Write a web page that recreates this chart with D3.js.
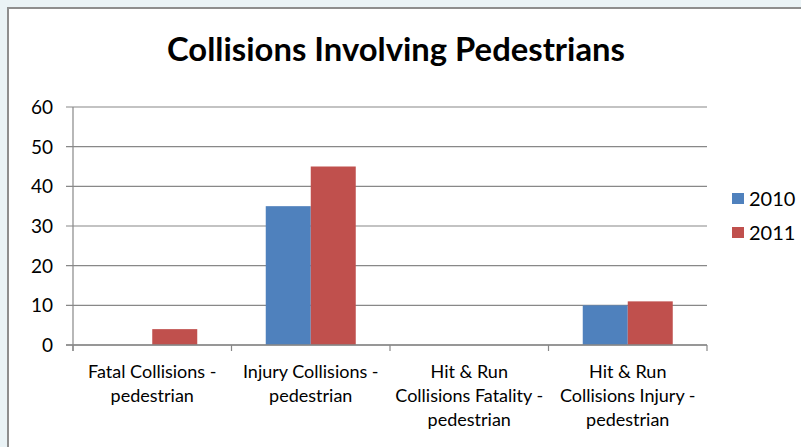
<!DOCTYPE html>
<html>
<head>
<meta charset="utf-8">
<script src="https://cdn.jsdelivr.net/npm/d3@7"></script>
<style>
  html, body { margin: 0; padding: 0; background: #eaf3f6; }
  svg { display: block; }
  text { font-family: Lato, "Open Sans", sans-serif; fill: #000; }
</style>
</head>
<body>
<script>
// Chart data
const categories = [
  ["Fatal Collisions -", "pedestrian"],
  ["Injury Collisions -", "pedestrian"],
  ["Hit & Run", "Collisions Fatality -", "pedestrian"],
  ["Hit & Run", "Collisions Injury -", "pedestrian"]
];
const seriesNames = ["2010", "2011"];
const values2010 = [0, 35, 0, 10];
const values2011 = [4, 45, 0, 11];
const yTicks = [0, 10, 20, 30, 40, 50, 60];
const colors = ["#4f81bd", "#c0504d"];

const W = 801, H = 447;
const svg = d3.select("body").append("svg").attr("width", W).attr("height", H);

// chart panel with gray frame running off right/bottom edges
svg.append("rect").attr("x", 8).attr("y", 8).attr("width", W).attr("height", H)
  .attr("fill", "#fff").attr("stroke", "#8e8e8e").attr("stroke-width", 2);

svg.append("text").attr("x", 396).attr("y", 61).attr("text-anchor", "middle")
  .attr("font-size", 32).attr("font-weight", "bold")
  .attr("textLength", 458).attr("lengthAdjust", "spacingAndGlyphs")
  .text("Collisions Involving Pedestrians");

const plotL = 73, plotR = 707, plotT = 107, plotB = 345;
const x = d3.scaleBand().domain(d3.range(categories.length)).range([plotL, plotR]);
const y = d3.scaleLinear().domain([0, 60]).range([plotB, plotT]);

// grid lines
svg.append("g").selectAll("line").data(yTicks).join("line")
  .attr("x1", plotL - 7).attr("x2", plotR)
  .attr("y1", d => y(d)).attr("y2", d => y(d))
  .attr("stroke", "#888").attr("stroke-width", 1.2);

// y tick labels
svg.append("g").selectAll("text").data(yTicks).join("text")
  .attr("x", 53).attr("y", d => y(d) + 7).attr("text-anchor", "end")
  .attr("font-size", 19).text(d => d);

// bars
const barW = x.bandwidth() * 90 / 158.5 / 2;
const series = [values2010, values2011];
series.forEach((vals, si) => {
  svg.append("g").selectAll("rect").data(vals).join("rect")
    .attr("x", (d, i) => x(i) + x.bandwidth() / 2 - barW + si * barW)
    .attr("width", barW)
    .attr("y", d => y(d))
    .attr("height", d => plotB - y(d))
    .attr("fill", colors[si]);
});

// axes lines
svg.append("line").attr("x1", plotL).attr("x2", plotL).attr("y1", plotT).attr("y2", plotB + 6)
  .attr("stroke", "#888").attr("stroke-width", 1.2);
svg.append("line").attr("x1", plotL - 7).attr("x2", plotR).attr("y1", plotB).attr("y2", plotB)
  .attr("stroke", "#888").attr("stroke-width", 1.5);
svg.append("g").selectAll("line").data(d3.range(categories.length + 1)).join("line")
  .attr("x1", i => plotL + i * x.step()).attr("x2", i => plotL + i * x.step())
  .attr("y1", plotB).attr("y2", plotB + 6)
  .attr("stroke", "#888").attr("stroke-width", 1.2);

// category labels
const catG = svg.append("g");
categories.forEach((lines, i) => {
  const t = catG.append("text").attr("text-anchor", "middle").attr("font-size", 18);
  lines.forEach((ln, j) => {
    t.append("tspan").attr("x", x(i) + x.bandwidth() / 2).attr("y", 378 + j * 24).text(ln);
  });
});

// legend
seriesNames.forEach((name, i) => {
  svg.append("rect").attr("x", 732).attr("y", 193 + i * 34).attr("width", 12).attr("height", 11)
    .attr("fill", colors[i]);
  svg.append("text").attr("x", 749).attr("y", 206 + i * 34).attr("font-size", 20).text(name);
});
</script>
</body>
</html>
